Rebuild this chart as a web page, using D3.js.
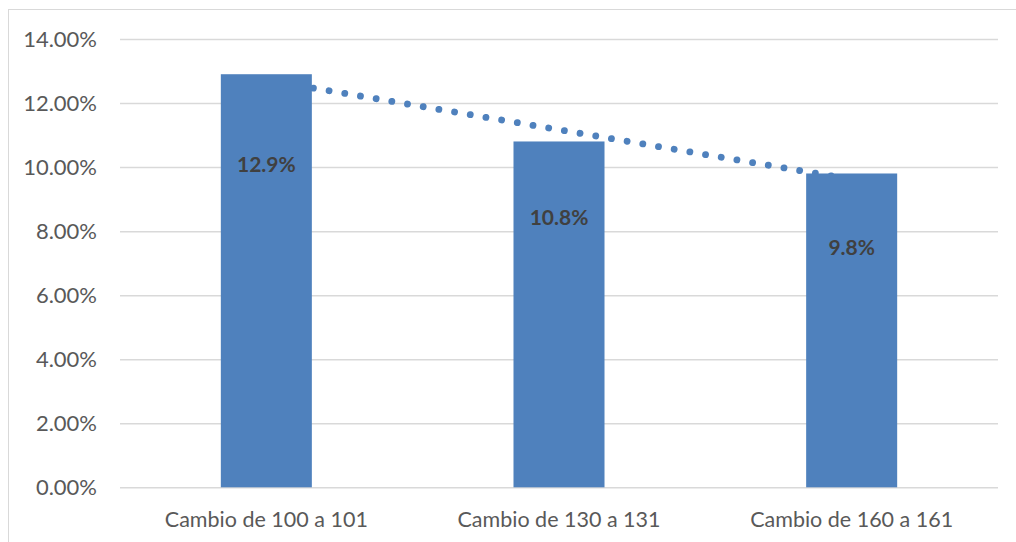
<!DOCTYPE html>
<html>
<head>
<meta charset="utf-8">
<script src="https://cdn.jsdelivr.net/npm/d3@7"></script>
<style>
  html, body { margin: 0; padding: 0; background: #ffffff; }
  svg { display: block; }
</style>
</head>
<body>
<svg id="chart" width="1016" height="542"></svg>
<script>
// ---- data ----
const categories = ["Cambio de 100 a 101", "Cambio de 130 a 131", "Cambio de 160 a 161"];
const values = [0.129, 0.108, 0.098];
const valueLabels = ["12.9%", "10.8%", "9.8%"];
const yTicks = [0, 0.02, 0.04, 0.06, 0.08, 0.10, 0.12, 0.14];

// ---- layout ----
const W = 1016, H = 542;
const plot = { left: 120, right: 998, top: 39, bottom: 487.3 };
const labelBaselineOffsets = [98, 84, 82]; // px below bar top (manually placed labels)
const barColor = "#4F81BD";
const gridColor = "#D9D9D9";
const font = "Lato, 'Open Sans', sans-serif";

const svg = d3.select("#chart");

// chart border (right/bottom edges lie outside the photographed window)
svg.append("rect")
  .attr("x", 8.5).attr("y", 9.5)
  .attr("width", 1100).attr("height", 600)
  .attr("fill", "none").attr("stroke", gridColor).attr("stroke-width", 1);

const x = d3.scaleBand()
  .domain(categories)
  .range([plot.left, plot.right])
  .paddingInner(0.689)
  .paddingOuter(0.3445);

const y = d3.scaleLinear()
  .domain([0, 0.14])
  .range([plot.bottom, plot.top]);

// gridlines + y tick labels
const yAxis = d3.axisLeft(y)
  .tickValues(yTicks)
  .tickFormat(d3.format(".2%"))
  .tickSize(-(plot.right - plot.left))
  .tickPadding(23);

const gy = svg.append("g")
  .attr("transform", `translate(${plot.left},0)`)
  .call(yAxis);
gy.select(".domain").remove();
gy.selectAll(".tick line").attr("stroke", gridColor).attr("stroke-width", 1.5);
gy.selectAll(".tick text")
  .attr("fill", "#595959")
  .style("font-family", font)
  .style("font-size", "22px");

// linear trendline (least squares over category index 1..n), drawn beneath bars
const n = values.length;
const xs = values.map((_, i) => i + 1);
const mx = d3.mean(xs), my = d3.mean(values);
const slope = d3.sum(xs.map((xi, i) => (xi - mx) * (values[i] - my))) / d3.sum(xs.map(xi => (xi - mx) ** 2));
const intercept = my - slope * mx;
const idxToPx = d3.scaleLinear()
  .domain([1, n])
  .range([x(categories[0]) + x.bandwidth() / 2, x(categories[n - 1]) + x.bandwidth() / 2]);
const trendPts = [1, n].map(t => [idxToPx(t), y(intercept + slope * t)]);

svg.append("path")
  .attr("d", d3.line()(trendPts))
  .attr("fill", "none")
  .attr("stroke", barColor)
  .attr("stroke-width", 6.8)
  .attr("stroke-linecap", "round")
  .attr("stroke-dasharray", "0.01 15.9");

// bars
svg.append("g").selectAll("rect")
  .data(values)
  .join("rect")
  .attr("x", (d, i) => x(categories[i]))
  .attr("y", d => y(d))
  .attr("width", x.bandwidth())
  .attr("height", d => y(0) - y(d))
  .attr("fill", barColor);

// data labels
svg.append("g").selectAll("text")
  .data(values)
  .join("text")
  .attr("x", (d, i) => x(categories[i]) + x.bandwidth() / 2)
  .attr("y", (d, i) => y(d) + labelBaselineOffsets[i])
  .attr("text-anchor", "middle")
  .attr("fill", "#404040")
  .style("font-family", font)
  .style("font-size", "21px")
  .style("font-weight", "bold")
  .text((d, i) => valueLabels[i]);

// category axis labels
const xAxis = d3.axisBottom(x).tickSize(0).tickPadding(0);
const gx = svg.append("g")
  .attr("transform", `translate(0,${plot.bottom})`)
  .call(xAxis);
gx.select(".domain").remove();
gx.selectAll(".tick text")
  .attr("y", 0)
  .attr("dy", 0)
  .attr("transform", "translate(0,39.4)")
  .attr("fill", "#595959")
  .style("font-family", font)
  .style("font-size", "21.5px");
</script>
</body>
</html>
